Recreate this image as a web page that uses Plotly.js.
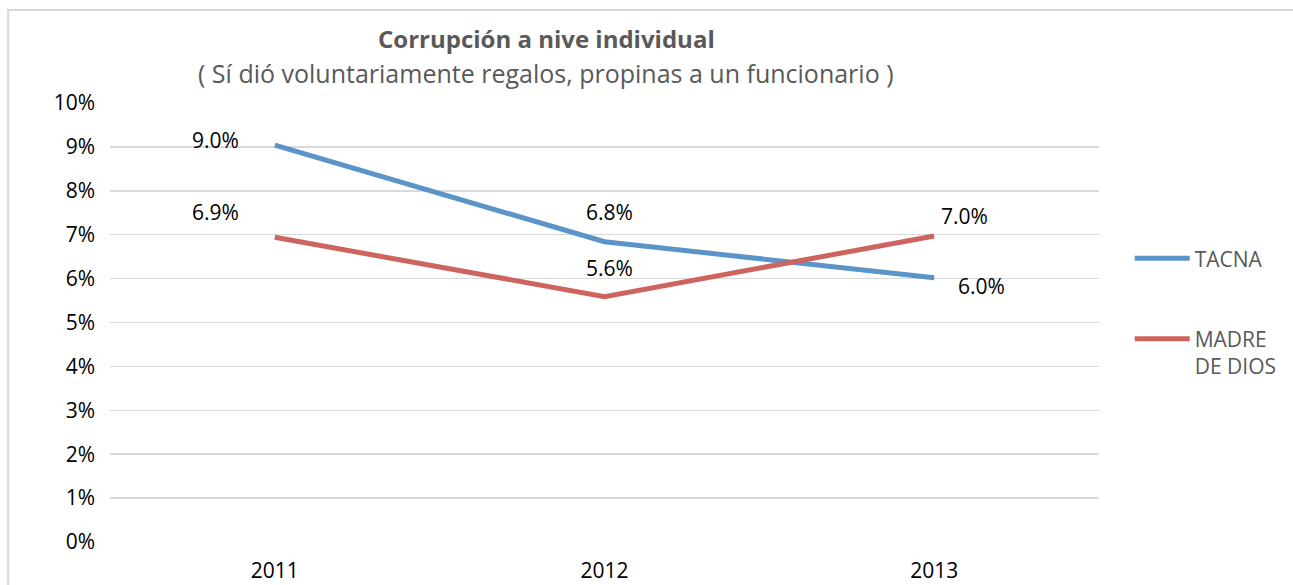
<!DOCTYPE html>
<html>
<head>
<meta charset="utf-8">
<script src="https://cdn.plot.ly/plotly-3.0.1.min.js"></script>
<style>html,body{margin:0;padding:0;background:#fff;}#chart{width:1293px;height:585px;}</style>
</head>
<body>
<div id="chart"></div>
<script>
const years = ['2011', '2012', '2013'];
const tacna = [0.0904, 0.0684, 0.0602];
const madreDeDios = [0.0694, 0.0559, 0.0697];
const seriesNames = ['TACNA', 'MADRE<br>DE DIOS'];
const yTicks = [0, 0.01, 0.02, 0.03, 0.04, 0.05, 0.06, 0.07, 0.08, 0.09, 0.10];
const titleText = 'Corrupción a nive individual';
const subtitleText = '( Sí dió voluntariamente regalos, propinas a un funcionario )';

// label offsets in pixels (layout only)
const tacnaOffsets = [[-59, 5], [5, 30], [47, -8]];
const madreOffsets = [[-59, 25], [5, 29], [30, 20]];

const FONT = '"Open Sans", sans-serif';
const blue = 'rgb(91,148,201)';
const red = 'rgb(205,100,95)';

const traces = [
  {x: years, y: tacna, name: seriesNames[0], type: 'scatter', mode: 'lines',
   line: {color: blue, width: 5}, legendgroup: 'a', hoverinfo: 'skip'},
  {x: years, y: madreDeDios, name: seriesNames[1], type: 'scatter', mode: 'lines',
   line: {color: red, width: 5}, legendgroup: 'b', hoverinfo: 'skip'}
];

const annotations = [];
function addLabels(vals, offs) {
  vals.forEach((v, i) => {
    // category axes place annotations by category index
    annotations.push({x: years.indexOf(years[i]), y: v, xref: 'x', yref: 'y', showarrow: false,
      xanchor: 'center', yanchor: 'middle',
      text: (v * 100).toFixed(1) + '%', xshift: offs[i][0], yshift: offs[i][1],
      font: {family: FONT, size: 21, color: '#000'}});
  });
}
addLabels(tacna, tacnaOffsets);
addLabels(madreDeDios, madreOffsets);
annotations.push({text: '<b>' + titleText + '</b>', xref: 'paper', yref: 'paper', x: 0.441, y: 1.0,
  xanchor: 'center', yanchor: 'middle', yshift: 65,
  showarrow: false, font: {family: FONT, size: 24, color: '#595959'}});
annotations.push({text: subtitleText, xref: 'paper', yref: 'paper', x: 0.441, y: 1.0,
  xanchor: 'center', yanchor: 'middle', yshift: 30,
  showarrow: false, font: {family: FONT, size: 25, color: '#595959'}});

const layout = {
  width: 1293, height: 585,
  margin: {l: 110, r: 193, t: 103, b: 43},
  paper_bgcolor: '#fff', plot_bgcolor: '#fff',
  xaxis: {type: 'category', range: [-0.5, 2.5], showgrid: false, zeroline: false,
    showline: false, ticks: '', ticklabelstandoff: 14,
    tickfont: {family: FONT, size: 21, color: '#000'}, fixedrange: true},
  yaxis: {range: [0, 0.1], tickvals: yTicks, tickformat: '.0%', showgrid: true,
    gridcolor: '#D9D9D9', gridwidth: 1.5, zeroline: false, showline: false, ticks: '',
    ticklabelstandoff: 14, tickfont: {family: FONT, size: 21, color: '#000'}, fixedrange: true},
  showlegend: true,
  legend: {x: 1.03, xanchor: 'left', y: 0.692, yanchor: 'top', tracegroupgap: 50, itemwidth: 55,
    font: {family: FONT, size: 21, color: '#595959'}, valign: 'top', bgcolor: 'rgba(0,0,0,0)'},
  annotations: annotations,
  shapes: [{type: 'rect', xref: 'paper', yref: 'paper', x0: -0.103, x1: 1.3, y0: -0.2, y1: 1.2118,
    line: {color: '#D9D9D9', width: 2}, fillcolor: 'rgba(0,0,0,0)', layer: 'below'}]
};

Plotly.newPlot('chart', traces, layout, {displayModeBar: false, staticPlot: true});
</script>
</body>
</html>
